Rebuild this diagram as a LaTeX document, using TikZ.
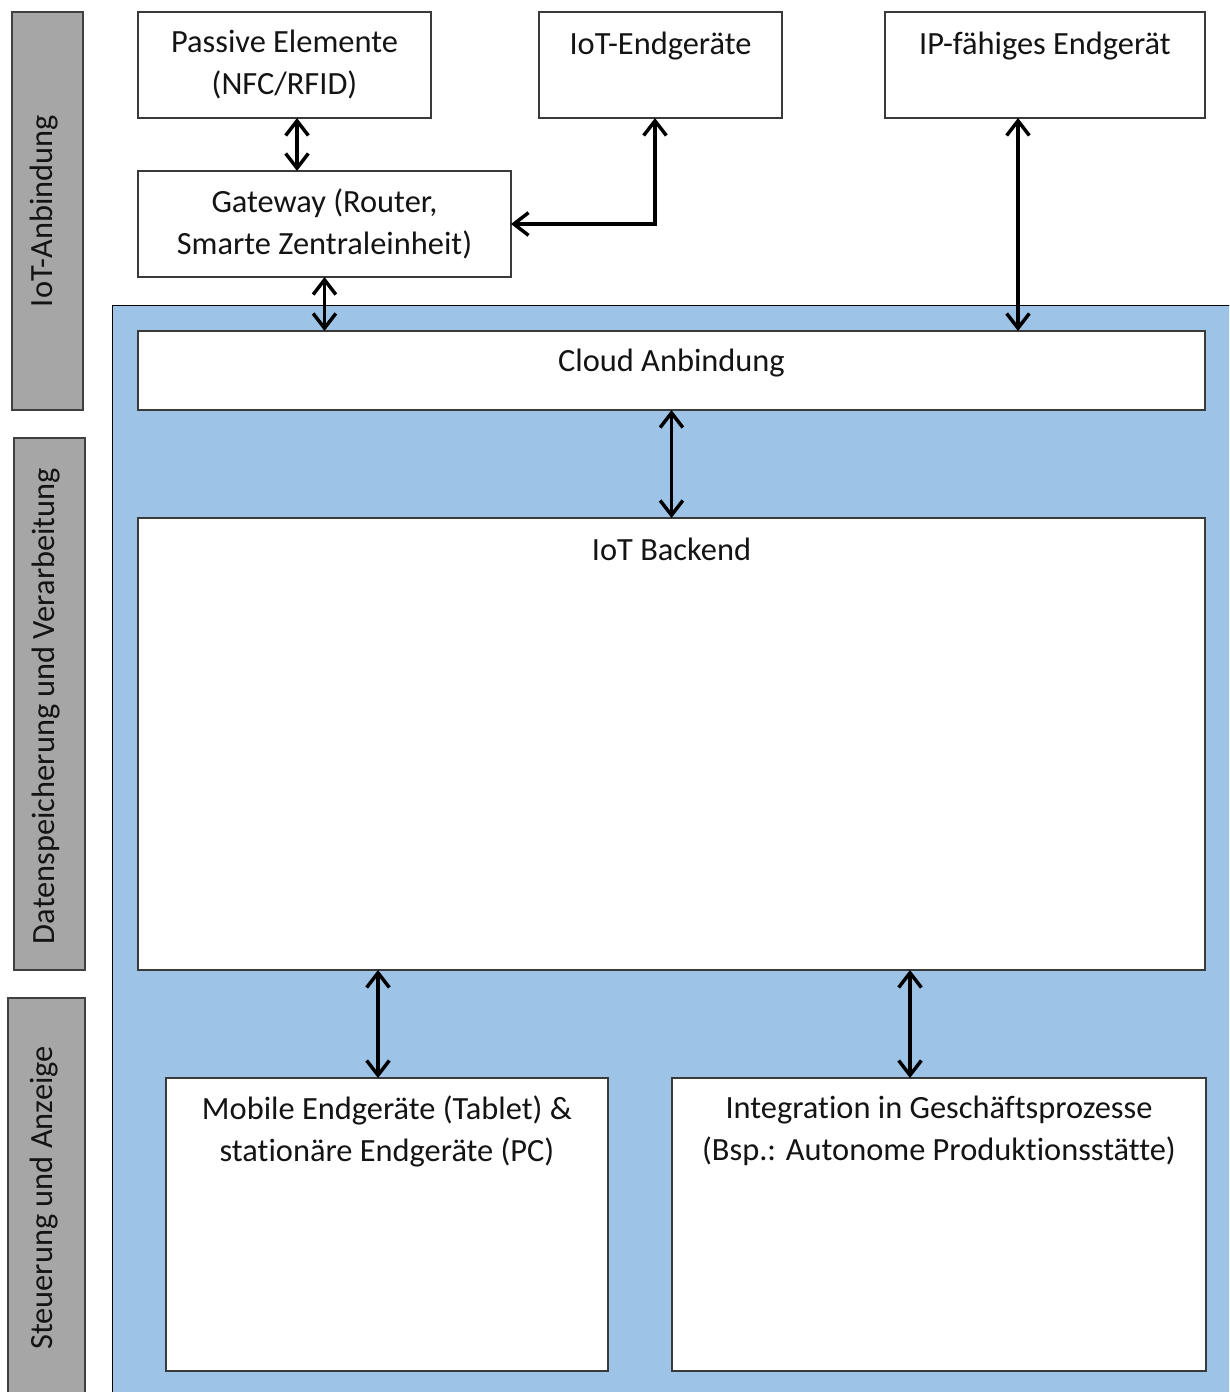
\documentclass[tikz,border=0pt]{standalone}
\usepackage{fontspec}
\setmainfont{Carlito}[Ligatures={NoCommon}]
\usetikzlibrary{arrows.meta}
\definecolor{layerblue}{HTML}{9DC3E6}
\definecolor{sidegray}{HTML}{A6A6A6}
\definecolor{sideedge}{HTML}{404040}
\definecolor{boxedge}{HTML}{3A3A3A}
\begin{document}
\begin{tikzpicture}[x=0.75pt,y=-0.75pt,
  box/.style={draw=boxedge,line width=1.1pt,fill=white,rectangle,inner sep=0pt,outer sep=0pt,anchor=north west},
  side/.style={draw=sideedge,line width=1.1pt,fill=sidegray,rectangle,inner sep=0pt,outer sep=0pt,anchor=north west},
  lbl/.style={anchor=north,inner sep=0pt,align=center,text=black!92,font=\fontsize{24.3pt}{31.5pt}\selectfont},
  sidelbl/.style={rotate=90,inner sep=0pt,text=black!92,font=\fontsize{24.3pt}{31.5pt}\selectfont},
  arr/.style={line width=2.6pt,{Straight Barb[length=11pt,width=17pt]}-{Straight Barb[length=11pt,width=17pt]}}]
\clip (0,0) rectangle (1229,1392);
\fill[white] (0,0) rectangle (1229,1392);

% layer bands on the left
\node[side,minimum width=71*0.75pt,minimum height=398*0.75pt] (sb1) at (12,12) {};
\node[side,minimum width=71*0.75pt,minimum height=532*0.75pt] (sb2) at (14,438) {};
\node[side,minimum width=77*0.75pt,minimum height=440*0.75pt] (sb3) at (8,998) {};
\node[sidelbl] at (44,211) {IoT-Anbindung};
\node[sidelbl] at (46,706) {Datenspeicherung und Verarbeitung};
\node[sidelbl] at (44,1198) {Steuerung und Anzeige};

% cloud platform area
\node[rectangle,draw=black,line width=1.1pt,fill=layerblue,inner sep=0pt,anchor=north west,
  minimum width=1140*0.75pt,minimum height=1110*0.75pt] (cloudarea) at (112,305) {};

% devices
\node[box,minimum width=293*0.75pt,minimum height=106*0.75pt] (pass) at (138,12) {};
\node[box,minimum width=243*0.75pt,minimum height=106*0.75pt] (iotend) at (539,12) {};
\node[box,minimum width=320*0.75pt,minimum height=106*0.75pt] (ipend) at (885,12) {};
\node[box,minimum width=373*0.75pt,minimum height=106*0.75pt] (gw) at (138,171) {};
\node[box,minimum width=1067*0.75pt,minimum height=79*0.75pt] (cloud) at (138,331) {};
\node[box,minimum width=1067*0.75pt,minimum height=452*0.75pt] (backend) at (138,518) {};
\node[box,minimum width=442*0.75pt,minimum height=293*0.75pt] (mobile) at (166,1078) {};
\node[box,minimum width=534*0.75pt,minimum height=293*0.75pt] (integ) at (672,1078) {};

% box captions
\node[lbl] at ([yshift=-18*0.75pt]pass.north) {Passive Elemente\\(NFC/RFID)};
\node[lbl] at ([yshift=-20*0.75pt]iotend.north) {IoT-Endgeräte};
\node[lbl] at ([yshift=-20*0.75pt]ipend.north) {IP-fähiges Endgerät};
\node[lbl] at ([yshift=-18*0.75pt]gw.north) {Gateway (Router,\\Smarte Zentraleinheit)};
\node[lbl] at ([yshift=-18*0.75pt]cloud.north) {Cloud Anbindung};
\node[lbl] at ([yshift=-20*0.75pt]backend.north) {IoT Backend};
\node[lbl] at ([yshift=-18*0.75pt]mobile.north) {Mobile Endgeräte (Tablet) \&\\stationäre Endgeräte (PC)};
\node[lbl] at ([yshift=-18*0.75pt]integ.north) {Integration in Geschäftsprozesse\\(Bsp.: Autonome Produktionsstätte)};

% connector columns
\coordinate (c1) at (297,0);
\coordinate (c3) at (655,0);
\coordinate (c4) at (1018,0);
\coordinate (c6) at (378,0);
\coordinate (c7) at (910,0);

% connectors
\draw[arr] (pass.south -| c1) -- (gw.north -| c1);
\draw[arr] (gw.south) -- (cloud.north -| gw.south);
\draw[arr] (iotend.south -| c3) |- (gw.east);
\draw[arr] (ipend.south -| c4) -- (cloud.north -| c4);
\draw[arr] (cloud.south) -- (backend.north);
\draw[arr] (backend.south -| c6) -- (mobile.north -| c6);
\draw[arr] (backend.south -| c7) -- (integ.north -| c7);
\end{tikzpicture}
\end{document}
